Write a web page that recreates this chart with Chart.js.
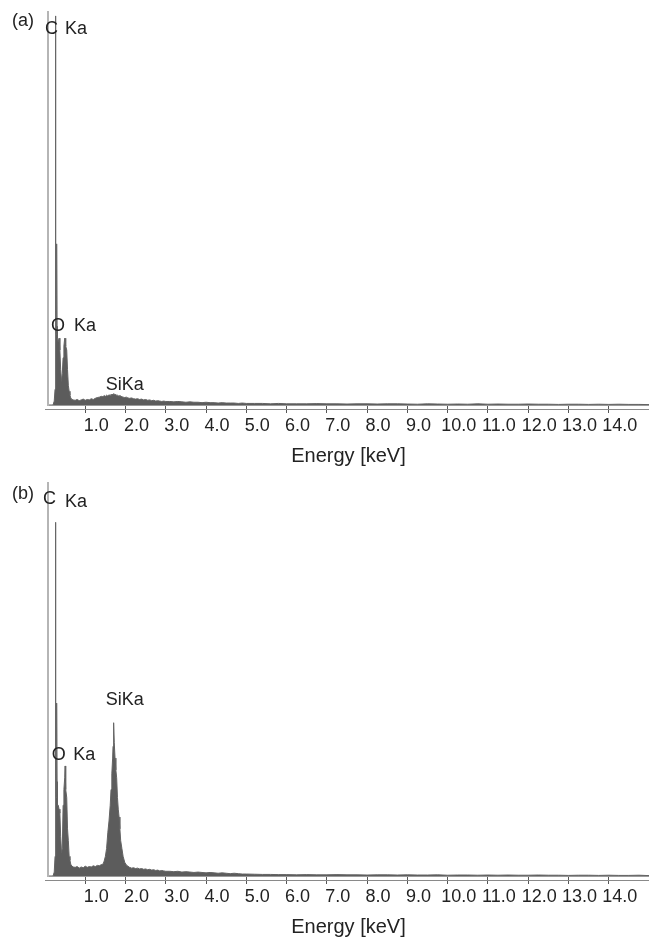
<!DOCTYPE html>
<html>
<head>
<meta charset="utf-8">
<script src="https://cdn.jsdelivr.net/npm/chart.js@4.4.1/dist/chart.umd.min.js"></script>
<style>
  body { margin: 0; background: #fff; }
  canvas { display: block; }
</style>
</head>
<body>
<canvas id="panelA" width="649" height="471"></canvas>
<canvas id="panelB" width="649" height="471"></canvas>
<script>
// channel energies (keV) shared by both spectra
const energy = [
  0.10, 0.20, 0.23, 0.25, 0.26, 0.27, 0.28, 0.29, 0.30, 0.31,
  0.33, 0.35, 0.37, 0.39, 0.41, 0.43, 0.45, 0.47, 0.49, 0.50,
  0.51, 0.52, 0.54, 0.56, 0.58, 0.60, 0.62, 0.64, 0.67, 0.70,
  0.75, 0.80, 0.85, 0.90, 0.95, 1.00, 1.05, 1.10, 1.15, 1.20, 1.25, 1.30, 1.35, 1.40,
  1.44, 1.47, 1.50, 1.53, 1.56, 1.59, 1.62, 1.64, 1.66, 1.68,
  1.69, 1.70, 1.71, 1.72, 1.74, 1.76, 1.78, 1.80, 1.82, 1.84,
  1.86, 1.88, 1.91, 1.94, 1.98, 2.02, 2.06,
  2.10, 2.15, 2.20, 2.25, 2.30, 2.35, 2.40, 2.45, 2.50, 2.55,
  2.60, 2.65, 2.70, 2.75, 2.80, 2.85, 2.90, 2.95, 3.00,
  3.1, 3.2, 3.3, 3.4, 3.5, 3.6, 3.7, 3.8, 3.9, 4.0,
  4.1, 4.2, 4.3, 4.4, 4.5, 4.6, 4.7, 4.8, 4.9, 5.0,
  5.2, 5.4, 5.6, 5.8, 6.0,
  6.25, 6.5, 6.75, 7.0, 7.25, 7.5, 7.75, 8.0, 8.25, 8.5, 8.75, 9.0,
  9.25, 9.5, 9.75, 10.0, 10.25, 10.5, 10.75, 11.0, 11.25, 11.5, 11.75, 12.0,
  12.25, 12.5, 12.75, 13.0, 13.25, 13.5, 13.75, 14.0, 14.25, 14.5, 14.75, 15.0
];

// counts, % of full scale, spectrum (a)
const countsA = [
  0, 0, 1, 4, 99, 24, 18, 41, 20, 17,
  16, 17, 14, 9, 6, 8, 12, 15, 17, 16,
  17, 15, 14, 9, 5, 3.5, 2.5, 1.8, 1.4, 1.3,
  1.2, 1.4, 1.1, 1.3, 1.5, 1.2, 1.4, 1.3, 1.6, 1.4, 1.7, 1.9, 2.0, 2.2,
  2.1, 2.4, 2.2, 2.5, 2.3, 2.6, 2.4, 2.7, 2.5, 2.8,
  2.6, 2.9, 2.7, 2.8, 2.6, 2.7, 2.4, 2.5, 2.3, 2.4,
  2.2, 2.3, 2.1, 2.0, 1.9, 2.0, 1.8,
  1.7, 1.8, 1.6, 1.5, 1.6, 1.4, 1.5, 1.3, 1.4, 1.2,
  1.3, 1.1, 1.2, 1.0, 1.1, 1.0, 0.9, 1.0, 0.9,
  0.9, 0.8, 0.9, 0.8, 0.7, 0.8, 0.7, 0.7, 0.6, 0.7,
  0.6, 0.6, 0.5, 0.6, 0.5, 0.5, 0.5, 0.4, 0.5, 0.4,
  0.4, 0.4, 0.3, 0.4, 0.3,
  0.3, 0.3, 0.35, 0.3, 0.3, 0.25, 0.3, 0.3, 0.25, 0.3, 0.3, 0.25,
  0.2, 0.3, 0.25, 0.2, 0.25, 0.2, 0.3, 0.2, 0.25, 0.2, 0.2, 0.25,
  0.2, 0.2, 0.15, 0.2, 0.2, 0.15, 0.2, 0.15, 0.2, 0.15, 0.15, 0.1
];

// counts, % of full scale, spectrum (b)
const countsB = [
  0, 0, 1, 5, 90, 26, 20, 44, 24, 18,
  18, 17, 16, 10, 6, 7, 18, 22, 25, 28,
  23, 22, 20, 12, 9, 5, 4, 3, 2.5, 2.3,
  2.2, 2.4, 2.0, 2.3, 2.1, 2.5, 2.2, 2.4, 2.3, 2.6, 2.4, 2.7, 2.6, 2.9,
  3.0, 3.8, 5, 7, 11, 14, 18, 22, 26, 30,
  33, 36, 39, 34, 30, 27, 25, 20, 17, 15,
  12, 9, 7, 5, 3.5, 2.8, 2.5,
  2.2, 2.0, 2.1, 1.9, 2.0, 1.8, 1.9, 1.7, 1.8, 1.6,
  1.7, 1.5, 1.6, 1.4, 1.5, 1.3, 1.4, 1.3, 1.2,
  1.2, 1.1, 1.2, 1.0, 1.1, 1.0, 0.9, 1.0, 0.9, 0.8,
  0.9, 0.8, 0.7, 0.8, 0.7, 0.6, 0.7, 0.6, 0.5, 0.5,
  0.45, 0.4, 0.4, 0.35, 0.35,
  0.3, 0.35, 0.3, 0.3, 0.35, 0.3, 0.3, 0.25, 0.3, 0.3, 0.25, 0.3,
  0.25, 0.25, 0.3, 0.2, 0.25, 0.25, 0.2, 0.25, 0.2, 0.25, 0.2, 0.2,
  0.25, 0.2, 0.2, 0.15, 0.2, 0.2, 0.15, 0.2, 0.15, 0.15, 0.2, 0.1
];

const tickValues = [1, 2, 3, 4, 5, 6, 7, 8, 9, 10, 11, 12, 13, 14];

// peak labels, placed in data units (keV, % of full scale)
const peakLabelsA = [
  { text: "C", e: 0.0, v: 95.7 },
  { text: "Ka", e: 0.5, v: 95.7 },
  { text: "O", e: 0.15, v: 20.1 },
  { text: "Ka", e: 0.72, v: 20.1 },
  { text: "SiKa", e: 1.51, v: 5.1 },
];
const peakLabelsB = [
  { text: "C", e: -0.05, v: 95.9 },
  { text: "Ka", e: 0.5, v: 95.2 },
  { text: "O", e: 0.17, v: 30.8 },
  { text: "Ka", e: 0.7, v: 30.8 },
  { text: "SiKa", e: 1.51, v: 44.8 },
];

const FONT = "'Liberation Sans', Arial, Helvetica, sans-serif";
const TEXT = "#222";

const spectrumDecor = {
  id: "spectrumDecor",
  afterDraw(chart, args, opts) {
    const { ctx, chartArea, scales } = chart;
    ctx.save();
    // lower line of the double energy axis
    ctx.strokeStyle = "#8a8a8a";
    ctx.lineWidth = 1;
    ctx.beginPath();
    ctx.moveTo(chartArea.left - 3, chartArea.bottom + 4.5);
    ctx.lineTo(chartArea.right, chartArea.bottom + 4.5);
    ctx.stroke();

    ctx.fillStyle = TEXT;
    ctx.font = "18px " + FONT;
    ctx.textAlign = "left";
    ctx.textBaseline = "middle";
    ctx.fillText(opts.panel, 12, opts.panelY);
    for (const lab of opts.labels) {
      ctx.fillText(lab.text, scales.x.getPixelForValue(lab.e), scales.y.getPixelForValue(lab.v));
    }
    ctx.restore();
  }
};

function makeSpectrum(id, counts, panel, panelY, labels) {
  new Chart(document.getElementById(id), {
    type: "line",
    data: {
      datasets: [{
        data: energy.map((e, i) => ({ x: e, y: counts[i] })),
        backgroundColor: "#5c5c5c",
        borderColor: "#636363",
        borderWidth: 1,
        fill: "origin",
        pointRadius: 0,
        tension: 0,
      }]
    },
    options: {
      responsive: false,
      animation: false,
      devicePixelRatio: 1,
      layout: { padding: { left: 48, right: 0, top: 12, bottom: 0 } },
      plugins: {
        legend: { display: false },
        tooltip: { enabled: false },
        spectrumDecor: { panel, panelY, labels },
      },
      scales: {
        x: {
          type: "linear",
          min: 0.075,
          max: 15,
          afterBuildTicks: (scale) => { scale.ticks = tickValues.map(v => ({ value: v })); },
          afterFit: (scale) => { scale.height = 66; },
          grid: { drawOnChartArea: false, drawTicks: true, tickLength: 8, color: "#555", lineWidth: 1 },
          border: { display: true, color: "#9a9a9a", width: 1 },
          ticks: {
            autoSkip: false,
            maxRotation: 0,
            padding: 2,
            labelOffset: 11,
            color: TEXT,
            font: { family: FONT, size: 18 },
            callback: (v) => v.toFixed(1),
          },
          title: {
            display: true,
            text: "Energy [keV]",
            color: TEXT,
            font: { family: FONT, size: 20 },
            padding: { top: 0, bottom: 3 },
          },
        },
        y: {
          min: 0,
          max: 100,
          afterFit: (scale) => { scale.width = 0; },
          grid: { display: false },
          border: { display: true, color: "#b5b5b5", width: 2 },
          ticks: { display: false },
        },
      },
    },
    plugins: [spectrumDecor],
  });
}

makeSpectrum("panelA", countsA, "(a)", 21, peakLabelsA);
makeSpectrum("panelB", countsB, "(b)", 23, peakLabelsB);
</script>
</body>
</html>
